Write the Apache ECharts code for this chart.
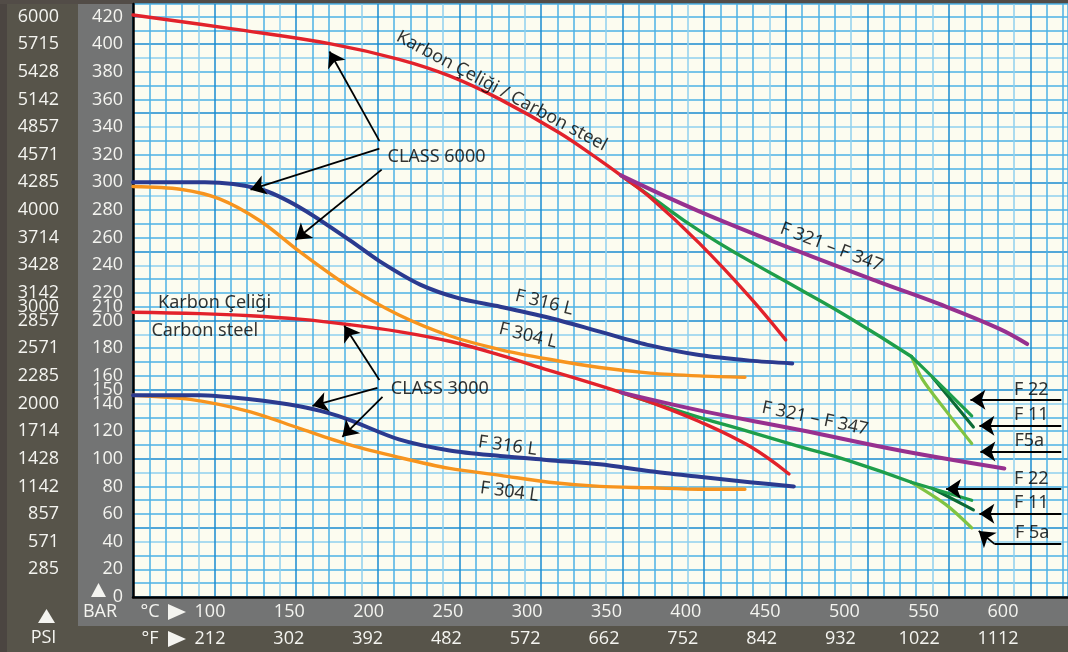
<!DOCTYPE html>
<html>
<head>
<meta charset="utf-8">
<title>Pressure – temperature ratings</title>
<script src="https://cdn.jsdelivr.net/npm/echarts@6.0.0/dist/echarts.min.js"></script>
<style>
  html, body { margin: 0; padding: 0; background: #57544a; }
  #chart { width: 1068px; height: 652px; }
</style>
</head>
<body>
<div id="chart"></div>
<script>
// ---- tick labels ----
const barLabelValues = [0, 20, 40, 60, 80, 100, 120, 140, 150, 160, 180, 200, 210, 220, 240, 260, 280, 300, 320, 340, 360, 380, 400, 420];
const psiLabelBars = [20, 40, 60, 80, 100, 120, 140, 160, 180, 200, 210, 220, 240, 260, 280, 300, 320, 340, 360, 380, 400, 420];
const psiLabels = ['285', '571', '857', '1142', '1428', '1714', '2000', '2285', '2571', '2857', '3000', '3142', '3428', '3714', '4000', '4285', '4571', '4857', '5142', '5428', '5715', '6000'];
const celsiusTicks = ['100', '150', '200', '250', '300', '350', '400', '450', '500', '550', '600'];
const fahrenheitTicks = ['212', '302', '392', '482', '572', '662', '752', '842', '932', '1022', '1112'];

// ---- rating curves: [temperature °C, pressure bar] ----
// CLASS 6000
const c6000Carbon = [[50, 421], [111, 411], [172, 400], [213, 389], [244, 377], [275, 360], [311, 336], [336, 316], [349, 305], [367, 289], [397, 256], [428, 217], [450, 186]];
const c6000F321 = [[349, 305], [397, 279], [458, 250], [507, 228], [544, 212], [581, 194], [598, 183]];
const c6000Alloy = [[349, 305], [367, 290], [397, 265], [428, 243], [458, 223], [489, 202], [527, 174]];
const c6000F22 = [[527, 174], [540, 159], [564, 131]];
const c6000F11 = [[540, 159], [565, 123]];
const c6000F5a = [[527, 174], [534, 157], [548, 135], [564, 111]];
const c6000F316L = [[50, 300], [94, 300], [128, 295], [152, 282], [183, 258], [201, 243], [226, 226], [250, 216], [275, 210], [305, 202], [336, 192], [367, 182], [397, 175], [428, 171], [454, 169]];
const c6000F304L = [[50, 297], [79, 295], [103, 288], [128, 272], [152, 250], [183, 224], [213, 204], [244, 189], [275, 179], [305, 172], [336, 166], [367, 162], [397, 160], [425, 159]];
// CLASS 3000
const c3000Carbon = [[50, 206], [91, 205], [122, 203.5], [152, 201], [183, 197], [213, 192], [244, 185], [275, 175], [305, 164], [336, 153], [349, 148], [367, 141], [397, 127], [428, 109], [452, 89]];
const c3000F321 = [[349, 148], [397, 135], [458, 121], [520, 106], [584, 93]];
const c3000Alloy = [[349, 148], [367, 141], [397, 130], [428, 119.5], [458, 109], [489, 98.5], [527, 83]];
const c3000F22 = [[527, 83], [564, 70]];
const c3000F11 = [[540, 78.5], [565, 63]];
const c3000F5a = [[527, 83], [548, 67], [564, 50]];
const c3000F316L = [[50, 146], [91, 146], [122, 143], [152, 138], [170, 133], [183, 128], [213, 114], [244, 106], [275, 102], [305, 99], [336, 96], [367, 91], [397, 87], [428, 83], [455, 80]];
const c3000F304L = [[50, 146], [85, 143], [122, 134], [152, 122], [183, 110], [213, 101], [244, 93], [275, 88], [305, 83], [336, 80], [367, 79], [397, 78], [425, 78]];

// ---- callouts (data units) ----
const notes = [
  { text: 'Karbon Çeliği / Carbon steel', t: 276, bar: 366, rotate: -28 },
  { text: 'CLASS 6000', t: 236, bar: 318.6, rotate: 0 },
  { text: 'F 321 – F 347', t: 478, bar: 253, rotate: -21 },
  { text: 'F 316 L', t: 302, bar: 213, rotate: -14 },
  { text: 'F 304 L', t: 292, bar: 189, rotate: -14 },
  { text: 'Karbon Çeliği', t: 100, bar: 213, rotate: 0 },
  { text: 'Carbon steel', t: 94, bar: 192.6, rotate: 0 },
  { text: 'CLASS 3000', t: 238, bar: 150.6, rotate: 0 },
  { text: 'F 316 L', t: 279.5, bar: 109.3, rotate: -8 },
  { text: 'F 304 L', t: 280.7, bar: 76, rotate: -8 },
  { text: 'F 321 – F 347', t: 468, bar: 129, rotate: -12 },
  { text: 'F 22', t: 600.5, bar: 150, rotate: 0 },
  { text: 'F 11', t: 600.5, bar: 131.8, rotate: 0 },
  { text: 'F5a', t: 599.3, bar: 113, rotate: 0 },
  { text: 'F 22', t: 600.5, bar: 85.4, rotate: 0 },
  { text: 'F 11', t: 600.5, bar: 68, rotate: 0 },
  { text: 'F 5a', t: 601.1, bar: 46.3, rotate: 0 }
];
const arrows = [
  [[201, 330], [170.4, 394.6]],
  [[201, 324.4], [122, 294.7]],
  [[202.4, 309.2], [149.6, 258.5]],
  [[201, 157], [179.5, 196.2]],
  [[199.8, 151.3], [160, 138.3]],
  [[202.9, 144.8], [178.3, 115.9]],
  [[618.9, 142.7], [563.2, 142.7]],
  [[618.9, 123.8], [568.7, 123.8]],
  [[618.9, 105.2], [569.3, 105.2]],
  [[618.9, 78.2], [548.3, 78.2]],
  [[618.9, 60.3], [568.7, 60.3]],
  [[577.9, 38.4], [568.3, 47.8]]
];
const plainSegments = [
  [[618.9, 38.4], [577.9, 38.4]]
];

const FONT = "'Open Sans', 'Noto Sans', sans-serif";
const NOTE_FONT = "'Noto Sans', 'Open Sans', sans-serif";
const WHITE = '#f4f4f0';
const RED = '#e2222b', BLUE = '#2b3a8f', ORANGE = '#f7941e', PURPLE = '#97308f';
const GREEN = '#1f9e4a', DARKGREEN = '#0c6b35', LIGHTGREEN = '#80c342';
const MAJOR = '#1a8bd0', MINOR = '#4cb2e6', LIGHT = '#8fd0ef';

function curve(name, data, color, width, z, smooth) {
  return {
    type: 'line', name, data, xAxisIndex: 0, yAxisIndex: 0,
    smooth: smooth || 0.3, symbol: 'none', silent: true, z: z,
    lineStyle: { color, width, cap: 'round', join: 'round' }
  };
}

const chart = echarts.init(document.getElementById('chart'), null, { width: 1068, height: 652 });

chart.setOption({
  animation: false,
  backgroundColor: '#57544a',
  textStyle: { fontFamily: FONT },
  grid: [
    { left: 133, top: 4, right: 0, bottom: 55, show: true, backgroundColor: '#fcfcf0', borderWidth: 0 },
    { left: 210, top: 590, width: 793, height: 7, show: false },
    { left: 210, top: 590, width: 788, height: 7, show: false }
  ],
  xAxis: [
    {
      gridIndex: 0, type: 'value', min: 50, max: 623, interval: 10,
      axisLine: { show: true, onZero: false, lineStyle: { color: '#000', width: 2.5 } },
      axisTick: { show: false }, axisLabel: { show: false },
      splitLine: { show: true, lineStyle: { color: [MAJOR, MINOR, MINOR, MINOR, LIGHT], width: 1.5 } }
    },
    {
      gridIndex: 1, type: 'category', data: celsiusTicks, boundaryGap: false, position: 'bottom',
      axisLine: { show: false }, axisTick: { show: false }, splitLine: { show: false },
      axisLabel: { color: WHITE, fontSize: 18, margin: 6, interval: 0, fontFamily: FONT }
    },
    {
      gridIndex: 2, type: 'category', data: fahrenheitTicks, boundaryGap: false, position: 'bottom', offset: 27,
      axisLine: { show: false }, axisTick: { show: false }, splitLine: { show: false },
      axisLabel: { color: WHITE, fontSize: 18, margin: 6, interval: 0, fontFamily: FONT }
    }
  ],
  yAxis: [
    {
      gridIndex: 0, type: 'value', min: 0, max: 429, interval: 10, position: 'left',
      axisLine: { show: true, onZero: false, lineStyle: { color: '#000', width: 2.5 } },
      axisTick: { show: false },
      axisLabel: {
        color: WHITE, fontSize: 18, margin: 10, fontFamily: FONT, showMaxLabel: false,
        formatter: v => (barLabelValues.indexOf(v) >= 0 ? String(v) : '')
      },
      splitLine: { show: true, lineStyle: { color: [MAJOR, MINOR, MINOR, MINOR, LIGHT], width: 1.5 } }
    },
    {
      gridIndex: 0, type: 'value', min: 0, max: 429, interval: 10, position: 'left', offset: 64,
      axisLine: { show: false }, axisTick: { show: false }, splitLine: { show: false },
      axisLabel: {
        color: WHITE, fontSize: 18, margin: 10, fontFamily: FONT, showMaxLabel: false,
        formatter: v => { const i = psiLabelBars.indexOf(v); return i >= 0 ? psiLabels[i] : ''; }
      }
    },
    { gridIndex: 1, type: 'value', show: false },
    { gridIndex: 2, type: 'value', show: false }
  ],
  graphic: [
    // frame panels around the plot
    { type: 'rect', z: -10, shape: { x: 0, y: 0, width: 7, height: 652 }, style: { fill: '#4b4541' }, silent: true },
    { type: 'rect', z: -10, shape: { x: 0, y: 0, width: 1068, height: 4 }, style: { fill: '#524c47' }, silent: true },
    { type: 'rect', z: -10, shape: { x: 78, y: 4, width: 55, height: 622 }, style: { fill: '#737474' }, silent: true },
    { type: 'rect', z: -10, shape: { x: 133, y: 597, width: 935, height: 29 }, style: { fill: '#737474' }, silent: true },
    // unit markers
    { type: 'polygon', shape: { points: [[38, 623], [55, 623], [46.5, 609]] }, style: { fill: WHITE }, silent: true },
    { type: 'polygon', shape: { points: [[91, 597], [106, 597], [98.5, 583]] }, style: { fill: WHITE }, silent: true },
    { type: 'polygon', shape: { points: [[168, 604], [168, 620], [186, 612]] }, style: { fill: WHITE }, silent: true },
    { type: 'polygon', shape: { points: [[168, 631], [168, 647], [186, 639]] }, style: { fill: WHITE }, silent: true },
    { type: 'text', x: 43.5, y: 638, style: { text: 'PSI', fill: WHITE, font: "18px " + FONT, align: 'center', verticalAlign: 'middle' }, silent: true },
    { type: 'text', x: 100, y: 612, style: { text: 'BAR', fill: WHITE, font: "18px " + FONT, align: 'center', verticalAlign: 'middle' }, silent: true },
    { type: 'text', x: 150, y: 612, style: { text: '°C', fill: WHITE, font: "18px " + FONT, align: 'center', verticalAlign: 'middle' }, silent: true },
    { type: 'text', x: 150, y: 639, style: { text: '°F', fill: WHITE, font: "18px " + FONT, align: 'center', verticalAlign: 'middle' }, silent: true }
  ],
  series: [
    curve('CLASS 6000 F 304 L', c6000F304L, ORANGE, 3.4, 3),
    curve('CLASS 6000 F 316 L', c6000F316L, BLUE, 4, 4),
    curve('CLASS 3000 F 304 L', c3000F304L, ORANGE, 3.4, 3),
    curve('CLASS 3000 F 316 L', c3000F316L, BLUE, 4, 4),
    curve('CLASS 6000 F5a', c6000F5a, LIGHTGREEN, 3.2, 3),
    curve('CLASS 6000 F11', c6000F11, DARKGREEN, 3.2, 3),
    curve('CLASS 6000 alloy', c6000Alloy, GREEN, 3.4, 3, 0.5),
    curve('CLASS 6000 F22', c6000F22, GREEN, 3.2, 3),
    curve('CLASS 3000 F5a', c3000F5a, LIGHTGREEN, 3.2, 3),
    curve('CLASS 3000 F11', c3000F11, DARKGREEN, 3.2, 3),
    curve('CLASS 3000 alloy', c3000Alloy, GREEN, 3.4, 3, 0.5),
    curve('CLASS 3000 F22', c3000F22, GREEN, 3.2, 3),
    curve('CLASS 6000 carbon', c6000Carbon, RED, 3.4, 4, 0.4),
    curve('CLASS 3000 carbon', c3000Carbon, RED, 3.4, 4, 0.4),
    curve('CLASS 6000 F 321 – F 347', c6000F321, PURPLE, 4, 4, 0.4),
    curve('CLASS 3000 F 321 – F 347', c3000F321, PURPLE, 4, 4, 0.4),
    {
      type: 'lines', coordinateSystem: 'cartesian2d', xAxisIndex: 0, yAxisIndex: 0, silent: true, z: 6,
      symbol: ['none', 'arrow'], symbolSize: 15,
      lineStyle: { color: '#000', width: 1.8, opacity: 1, curveness: 0 },
      data: arrows.map(c => ({ coords: c }))
    },
    {
      type: 'lines', coordinateSystem: 'cartesian2d', xAxisIndex: 0, yAxisIndex: 0, silent: true, z: 6,
      symbol: 'none',
      lineStyle: { color: '#000', width: 1.8, opacity: 1, curveness: 0 },
      data: plainSegments.map(c => ({ coords: c }))
    },
    {
      type: 'scatter', xAxisIndex: 0, yAxisIndex: 0, silent: true, z: 7,
      symbolSize: 1, itemStyle: { color: 'transparent' },
      label: {
        show: true, position: 'inside', formatter: '{b}', color: '#000', fontSize: 18, fontFamily: NOTE_FONT,
        textBorderWidth: 0
      },
      data: notes.map(n => ({ name: n.text, value: [n.t, n.bar], label: { rotate: n.rotate } }))
    }
  ]
});
</script>
</body>
</html>
